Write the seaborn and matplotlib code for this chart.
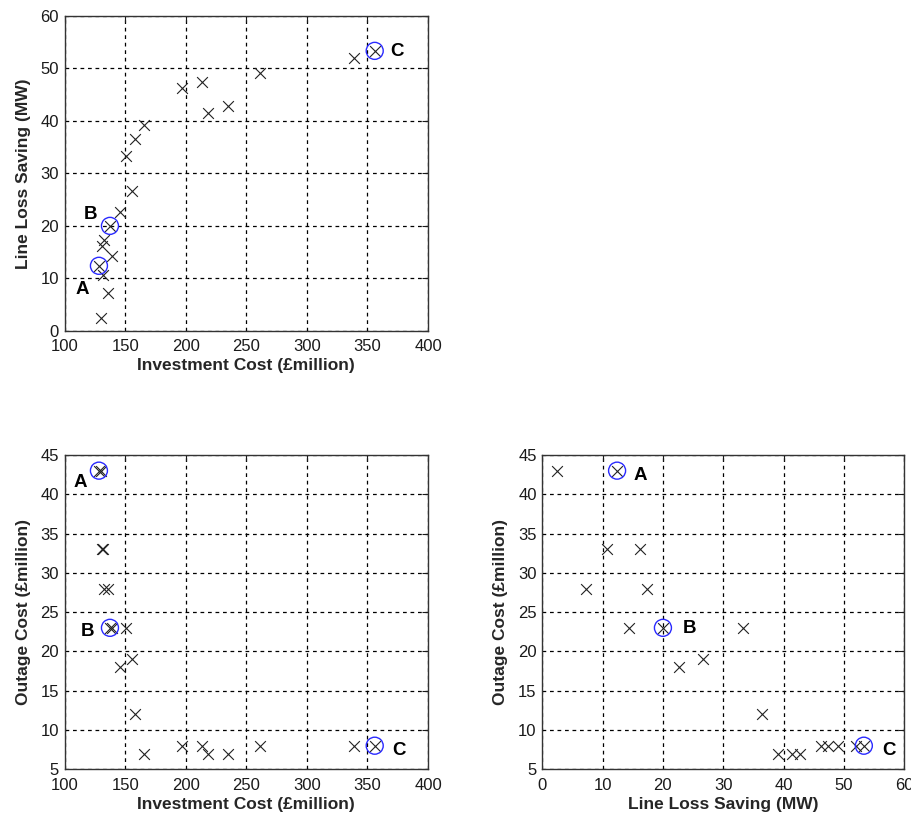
import numpy as np
import pandas as pd
import seaborn as sns
import matplotlib.pyplot as plt

# Pareto solutions
invest_cost = [356, 339, 261, 213, 197, 235, 218, 165.5, 158, 150.6,
               156, 145.7, 137.4, 132.7, 131.1, 138.8, 128.3, 131.4, 135.5, 130.2]
line_loss = [53.3, 52.0, 49.0, 47.4, 46.2, 42.8, 41.4, 39.1, 36.5, 33.2,
             26.6, 22.7, 20.0, 17.4, 16.2, 14.3, 12.4, 10.7, 7.3, 2.4]
outage_cost = [8, 8, 8, 8, 8, 7, 7, 7, 12, 23,
               19, 18, 23, 28, 33, 23, 43, 33, 28, 43]
names = ['C', '', '', '', '', '', '', '', '', '',
         '', '', 'B', '', '', '', 'A', '', '', '']

df = pd.DataFrame({'cost': invest_cost, 'loss': line_loss,
                   'outage': outage_cost, 'name': names})
picked = df[df['name'] != '']

sns.set_style('white')
plt.rcParams['font.family'] = ['Liberation Sans', 'DejaVu Sans']

fig = plt.figure(figsize=(9.12, 8.15), dpi=100)
ax1 = fig.add_axes([0.0709, 0.5939, 0.3984, 0.3869])
ax2 = fig.add_axes([0.0709, 0.0561, 0.3984, 0.3857])
ax3 = fig.add_axes([0.5946, 0.0561, 0.3969, 0.3857])

# label offsets in pixels for A, B, C on each panel
offsets = {
    ax1: {'A': (-17, -24), 'B': (-19, 11), 'C': (22, -1)},
    ax2: {'A': (-19, -12), 'B': (-22, -4), 'C': (24, -5)},
    ax3: {'A': (23, -5), 'B': (27, -1), 'C': (25, -5)},
}

panels = [
    (ax1, 'cost', 'loss', (100, 400), (0, 60), np.arange(100, 401, 50), np.arange(0, 61, 10),
     'Investment Cost (£million)', 'Line Loss Saving (MW)'),
    (ax2, 'cost', 'outage', (100, 400), (5, 45), np.arange(100, 401, 50), np.arange(5, 46, 5),
     'Investment Cost (£million)', 'Outage Cost (£million)'),
    (ax3, 'loss', 'outage', (0, 60), (5, 45), np.arange(0, 61, 10), np.arange(5, 46, 5),
     'Line Loss Saving (MW)', 'Outage Cost (£million)'),
]

for ax, xc, yc, xl, yl, xt, yt, xlab, ylab in panels:
    ax.grid(True, color='black', linestyle=(0, (3, 3)), linewidth=0.9)
    sns.scatterplot(ax=ax, data=df, x=xc, y=yc, marker='x', color='#222222',
                    s=60, linewidth=0.8, zorder=3)
    sns.scatterplot(ax=ax, data=picked, x=xc, y=yc, marker='o', s=150,
                    facecolors='none', edgecolors='#2a2aff', linewidth=1.0, zorder=4)
    for _, r in picked.iterrows():
        ax.annotate(r['name'], (r[xc], r[yc]), xytext=offsets[ax][r['name']],
                    textcoords='offset pixels', ha='center', va='center',
                    fontsize=13.5, fontweight='bold', color='black')
    ax.set_xlim(*xl)
    ax.set_ylim(*yl)
    ax.set_xticks(xt)
    ax.set_yticks(yt)
    ax.set_xlabel(xlab, fontsize=12.5, fontweight='bold', labelpad=3)
    ax.set_ylabel(ylab, fontsize=12.5, fontweight='bold', labelpad=7)
    ax.tick_params(labelsize=12, direction='in', length=4,
                   top=True, right=True, colors='#1a1a1a')
    ax.tick_params(axis='x', pad=6)
    ax.tick_params(axis='y', pad=4)
    for sp in ax.spines.values():
        sp.set_color('#333333')
        sp.set_linewidth(1.0)

plt.savefig('out.png', dpi=100)
